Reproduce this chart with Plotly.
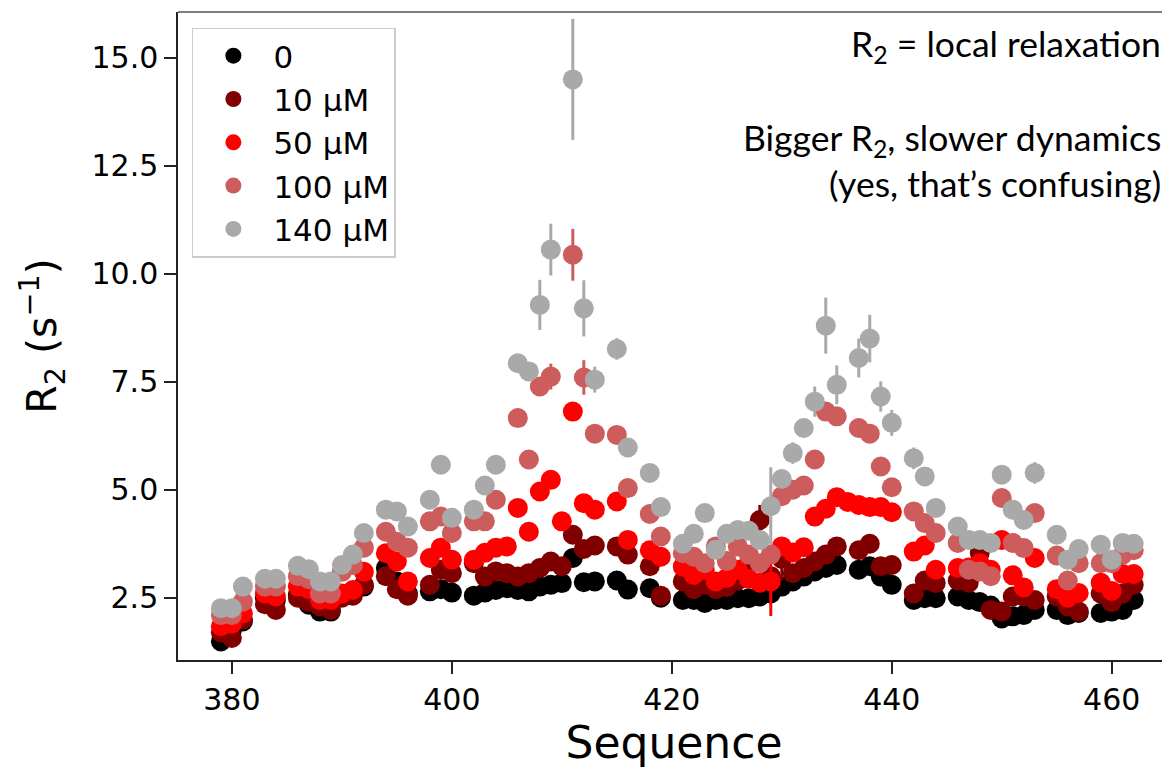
import plotly.graph_objects as go

residues = [379, 380, 381, 383, 384, 386, 387, 388, 389, 390, 391, 392, 394, 395, 396,
            398, 399, 400, 402, 403, 404, 405, 406, 407, 408, 409, 410, 411, 412, 413,
            415, 416, 418, 419, 421, 422, 423, 424, 425, 426, 427, 428, 429, 430, 431,
            432, 433, 434, 435, 436, 437, 438, 439, 440, 442, 443, 444, 446, 447, 448,
            449, 450, 451, 452, 453, 455, 456, 457, 459, 460, 461, 462]

r2_0 = [1.49, 1.75, 1.95, 2.50, 2.45, 2.57, 2.34, 2.18, 2.18, 2.53, 2.60, 2.76, 3.19, 2.88, 2.60,
        2.65, 2.70, 2.62, 2.55, 2.62, 2.68, 2.72, 2.68, 2.65, 2.76, 2.80, 2.84, 3.42, 2.86, 2.88,
        2.90, 2.69, 2.72, 2.50, 2.45, 2.45, 2.38, 2.45, 2.45, 2.49, 2.49, 2.53, 2.60, 2.76, 2.88,
        2.99, 3.11, 3.19, 3.26, None, 3.15, 3.23, 2.99, 2.80, 2.45, 2.49, 2.49, 2.53, 2.45, 2.40,
        2.32, 2.02, 2.07, 2.10, 2.22, 2.22, 2.10, 2.15, 2.15, 2.18, 2.22, 2.45]

r2_10 = [1.70, 1.57, 2.00, 2.35, 2.22, 2.50, 2.40, 2.30, 2.22, 2.50, 2.55, 2.80, 3.00, 2.70, 2.55,
         2.80, 3.15, 3.07, 3.30, 2.99, 3.11, 3.07, 2.99, 3.07, 3.19, 3.34, 3.23, 3.96, 3.63, 3.71,
         3.69, 3.50, 3.23, 2.55, 2.88, 2.70, 2.80, 2.70, 2.75, 2.90, 3.30, 4.30, 3.00, 3.40, 3.07,
         3.19, 3.34, 3.50, 3.69, None, 3.60, 3.75, 3.23, 3.26, 2.60, 2.90, 2.84, 2.90, 2.85, 3.54,
         2.22, 2.18, 2.53, 2.53, 2.45, 2.53, 2.30, 2.18, 2.60, 2.40, 2.60, 2.80]

r2_50 = [1.84, 1.90, 2.14, 2.60, 2.53, 2.76, 2.70, 2.45, 2.45, 2.60, 2.68, 3.10, 3.53, 3.34, 2.88,
         3.42, 3.66, 3.38, 3.38, 3.54, 3.66, 3.69, 4.58, 4.03, 4.96, 5.23, 4.27, 6.81, 4.69, 4.54,
         4.73, 3.84, 3.60, 3.45, 3.22, 3.03, 3.15, 2.88, 2.96, 3.15, 2.94, 2.85, 2.88, 3.69, 3.55,
         3.67, 4.38, 4.56, 4.83, 4.72, 4.65, 4.60, 4.60, 4.48, 3.57, 3.71, 3.15, 3.19, 3.20, 3.30,
         3.15, 3.84, 3.02, 2.74, 3.42, 2.70, 2.50, 2.61, 2.85, 2.66, 3.05, 3.05]

r2_100 = [2.10, 2.10, 2.41, 2.76, 2.76, 3.00, 2.93, 2.60, 2.60, 3.10, 3.26, 3.66, 4.03, 3.80, 3.66,
          4.27, 4.38, 4.00, 4.27, 4.27, 4.77, None, 6.66, 5.70, 7.39, 7.62, None, 10.44, 7.60, 6.30,
          6.27, 5.04, 4.44, 3.92, 3.53, 3.45, 3.30, 3.69, 3.35, 3.69, 3.50, 3.30, 3.50, 4.85, 5.00,
          5.10, 5.70, 6.81, 6.70, None, 6.43, 6.30, 5.54, 5.06, 4.50, 4.23, 4.00, 3.77, 3.15, 3.11,
          3.00, 4.81, 3.77, 3.65, 4.46, 3.48, 2.90, 3.30, 3.30, 3.30, 3.50, 3.60]

r2_140 = [2.26, 2.26, 2.76, 2.94, 2.94, 3.24, 3.16, 2.88, 2.88, 3.26, 3.50, 4.00, 4.54, 4.50, 4.15,
          4.77, 5.58, 4.35, 4.54, 5.10, 5.58, None, 7.93, 7.74, 9.28, 10.56, None, 14.50, 9.20, 7.55,
          8.26, 5.98, 5.39, 4.60, 3.75, 3.98, 4.46, 3.61, 3.98, 4.07, 4.05, 3.84, 4.62, 5.25, 5.85,
          6.43, 7.04, 8.80, 7.43, None, 8.05, 8.50, 7.16, 6.55, 5.73, 5.31, 4.58, 4.15, 3.84, 3.84,
          3.77, 5.35, 4.54, 4.30, 5.39, 3.96, 3.38, 3.63, 3.73, 3.38, 3.77, 3.75]

# visible error bars (half-widths); residues not listed show no visible bar
err_0 = {}
err_10 = {428: 0.35, 430: 0.5, 448: 0.3}
err_50 = {411: 0.2, 429: 0.8}
err_100 = {408: 0.2, 409: 0.3, 411: 0.6, 412: 0.4, 434: 0.15}
err_140 = {406: 0.15, 407: 0.1, 408: 0.58, 409: 0.6, 411: 1.4, 412: 0.65, 413: 0.3, 415: 0.25,
           416: 0.2, 418: 0.15, 429: 0.9, 430: 0.2, 431: 0.25, 432: 0.2, 433: 0.35, 434: 0.65,
           435: 0.45, 437: 0.45, 438: 0.55, 439: 0.35, 440: 0.3, 442: 0.25, 443: 0.2, 447: 0.2,
           448: 0.15, 453: 0.25}

series_names = ["0", "10 µM", "50 µM", "100 µM", "140 µM"]
series_values = [r2_0, r2_10, r2_50, r2_100, r2_140]
series_errors = [err_0, err_10, err_50, err_100, err_140]
series_colors = ["#000000", "#800000", "#ff0000", "#cd5c5c", "#a9a9a9"]

x_ticks = [380, 400, 420, 440, 460]
y_ticks = [2.5, 5.0, 7.5, 10.0, 12.5, 15.0]

for v in series_values:
    assert len(v) == len(residues)

fig = go.Figure()
for i, (name, vals, errs, col) in enumerate(zip(series_names, series_values, series_errors, series_colors)):
    xs = [r for r, v in zip(residues, vals) if v is not None]
    ys = [v for v in vals if v is not None]
    es = [errs.get(r, 0) for r, v in zip(residues, vals) if v is not None]
    fig.add_trace(go.Scatter(
        x=xs, y=ys, mode="markers", name=name, legendgroup=str(i),
        marker=dict(color=col, size=20, line=dict(width=0)),
        error_y=dict(type="data", array=es, visible=True, color=col, thickness=3, width=0),
    ))

axis_font = dict(family="DejaVu Sans", size=30, color="#000000")
fig.update_layout(
    width=1162, height=766,
    margin=dict(l=170, r=0, t=4, b=114),
    paper_bgcolor="white", plot_bgcolor="white",
    showlegend=True,
    legend=dict(
        x=0.014, y=0.976, xanchor="left", yanchor="top",
        bgcolor="rgba(255,255,255,0.9)", bordercolor="#cccccc", borderwidth=1.5,
        font=dict(family="DejaVu Sans", size=31, color="#000000"),
        traceorder="grouped", tracegroupgap=0, itemsizing="trace", itemwidth=70,
    ),
    xaxis=dict(
        range=[375.1, 465.3], tickmode="array", tickvals=x_ticks,
        ticktext=[str(t) for t in x_ticks],
        showgrid=False, zeroline=False, showline=True, linecolor="#222222", linewidth=1.5,
        ticks="outside", ticklen=12, tickwidth=1.8, tickcolor="#222222",
        tickfont=axis_font,
        title=dict(text="Sequence", font=dict(family="DejaVu Sans", size=44, color="#000000"), standoff=10),
    ),
    yaxis=dict(
        range=[1.06, 16.06], tickmode="array", tickvals=y_ticks,
        ticktext=[f"{t:.1f}" for t in y_ticks],
        showgrid=False, zeroline=False, showline=True, linecolor="#222222", linewidth=1.5,
        ticks="outside", ticklen=12, tickwidth=1.8, tickcolor="#222222",
        tickfont=axis_font,
        title=dict(text="R<sub>2</sub> (s<sup>−1</sup>)", font=dict(family="DejaVu Sans", size=41, color="#000000"), standoff=22),
    ),
    shapes=[dict(type="line", xref="paper", yref="paper", x0=0, x1=1, y0=1, y1=1,
                 line=dict(color="#555555", width=1.5))],
)

note_font = dict(family="Lato", size=35.5, color="#000000")
fig.add_annotation(xref="paper", yref="paper", x=0.993, y=0.949, xanchor="right", yanchor="middle",
                   text="R<sub>2</sub> = local relaxation", showarrow=False, font=note_font)
fig.add_annotation(xref="paper", yref="paper", x=0.993, y=0.8025, xanchor="right", yanchor="middle",
                   text="Bigger R<sub>2</sub>, slower dynamics", showarrow=False, font=note_font)
fig.add_annotation(xref="paper", yref="paper", x=0.993, y=0.736, xanchor="right", yanchor="middle",
                   text="(yes, that’s confusing)", showarrow=False, font=note_font)

fig.write_html("out.html", config={"displayModeBar": False})
